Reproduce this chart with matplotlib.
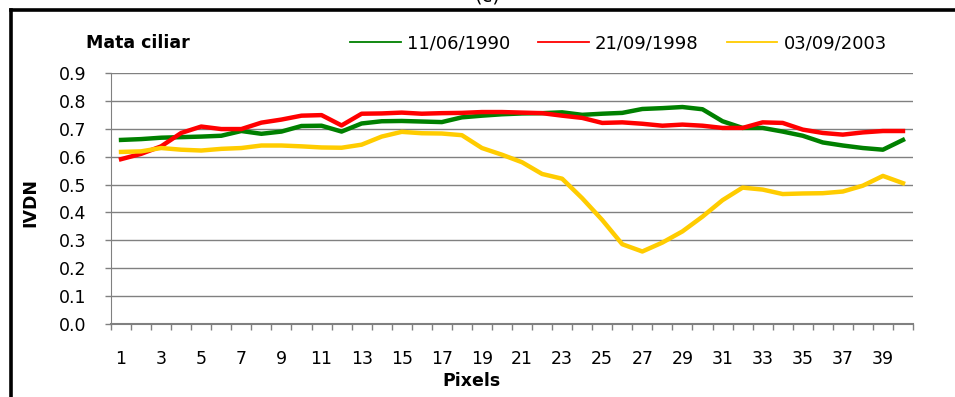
import numpy as np
import matplotlib
matplotlib.use("Agg")
import matplotlib.pyplot as plt
from matplotlib.lines import Line2D

plt.rcParams['font.family'] = ['DejaVu Sans']

pixels = np.arange(1, 41)
labels = ['11/06/1990', '21/09/1998', '03/09/2003']
colors = ['#008000', '#ff0000', '#ffcc00']

ndvi_1990 = [0.660, 0.663, 0.668, 0.670, 0.672, 0.675, 0.692, 0.682, 0.690, 0.710,
             0.711, 0.690, 0.719, 0.727, 0.728, 0.726, 0.724, 0.741, 0.747, 0.752,
             0.755, 0.756, 0.759, 0.750, 0.754, 0.757, 0.771, 0.774, 0.778, 0.770,
             0.727, 0.703, 0.703, 0.690, 0.675, 0.651, 0.640, 0.631, 0.625, 0.660]
ndvi_1998 = [0.591, 0.610, 0.637, 0.685, 0.708, 0.699, 0.699, 0.722, 0.733, 0.747,
             0.749, 0.712, 0.754, 0.755, 0.758, 0.754, 0.756, 0.757, 0.760, 0.760,
             0.758, 0.756, 0.747, 0.739, 0.721, 0.723, 0.718, 0.711, 0.715, 0.711,
             0.703, 0.703, 0.723, 0.721, 0.697, 0.685, 0.679, 0.687, 0.692, 0.692]
ndvi_2003 = [0.617, 0.619, 0.631, 0.625, 0.622, 0.628, 0.631, 0.640, 0.640, 0.637,
             0.633, 0.632, 0.643, 0.672, 0.689, 0.684, 0.683, 0.677, 0.631, 0.607,
             0.580, 0.538, 0.521, 0.451, 0.373, 0.286, 0.260, 0.292, 0.332, 0.385,
             0.444, 0.489, 0.482, 0.466, 0.468, 0.469, 0.475, 0.496, 0.531, 0.505]

W, H = 955, 397
fig = plt.figure(figsize=(W / 100, H / 100), dpi=100)
ax = fig.add_axes([111 / W, 1 - 324 / H, (913 - 111) / W, (324 - 73) / H])

series = [ndvi_1990, ndvi_1998, ndvi_2003]
handles = []
for vals, c, lab in zip(series, colors, labels):
    ax.plot(pixels, vals, color=c, lw=3.2, solid_joinstyle='round', zorder=3)
    handles.append(Line2D([], [], color=c, lw=1.3, label=lab))

grey = '#808080'
ax.set_xlim(0.5, 40.5)
ax.set_ylim(0, 0.9)
ax.set_yticks(np.arange(0, 0.91, 0.1))
ax.set_yticklabels(['%.1f' % v for v in np.arange(0, 0.91, 0.1)])
ax.yaxis.grid(True, color=grey, lw=1.0)
ax.set_axisbelow(True)

# category labels on odd pixels, tick marks between categories
ax.set_xticks(pixels[::2])
ax.set_xticklabels([str(p) for p in pixels[::2]])
ax.set_xticks(np.arange(0.5, 41, 1), minor=True)
ax.tick_params(axis='x', which='major', length=0, pad=19, labelsize=12.5)
ax.tick_params(axis='x', which='minor', length=4.5, width=1, color=grey, direction='out')
ax.tick_params(axis='y', length=4.5, width=1, color=grey, pad=13, labelsize=12.5)

for s in ['top', 'right']:
    ax.spines[s].set_visible(False)
ax.spines['left'].set_color(grey)
ax.spines['bottom'].set_color(grey)
ax.spines['bottom'].set_linewidth(1.5)

fig.text(86 / W, 1 - 43 / H, 'Mata ciliar', fontsize=12.5, fontweight='bold',
         ha='left', va='center')
fig.text(30 / W, 1 - 202 / H, 'IVDN', fontsize=12.5, fontweight='bold',
         rotation=90, ha='center', va='center')
fig.text(471 / W, 1 - 381 / H, 'Pixels', fontsize=12.5, fontweight='bold',
         ha='center', va='center')
fig.text(487 / W, 1 - 1 / H, '(c)', fontsize=14, ha='center', va='baseline')

fig.legend(handles=handles, loc='center left', bbox_to_anchor=(350 / W, 1 - 43 / H),
           ncol=3, frameon=False, fontsize=13, handlelength=2.8,
           handletextpad=0.35, columnspacing=1.55, borderpad=0, borderaxespad=0)

# outer frame, only its left and top edges fall inside the image
fig.add_artist(Line2D([10.5 / W, 10.5 / W], [0, 1 - 9.5 / H], color='black', lw=2.6,
                      transform=fig.transFigure, solid_capstyle='projecting'))
fig.add_artist(Line2D([10.5 / W, 1], [1 - 9.5 / H, 1 - 9.5 / H], color='black', lw=2.6,
                      transform=fig.transFigure, solid_capstyle='projecting'))

fig.savefig('out.png', dpi=100)
